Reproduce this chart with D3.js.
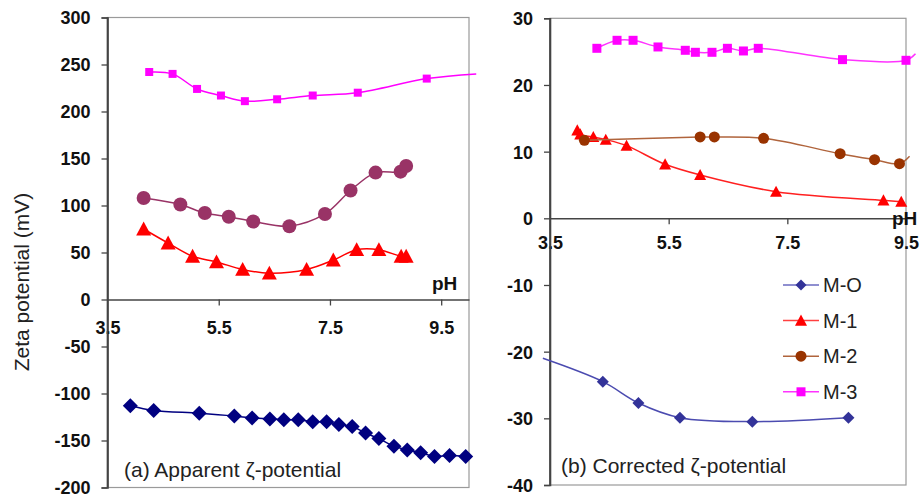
<!DOCTYPE html>
<html>
<head>
<meta charset="utf-8">
<script src="https://cdn.jsdelivr.net/npm/d3@7/dist/d3.min.js"></script>
<style>
  html, body { margin: 0; padding: 0; background: #fff; }
  svg { display: block; font-family: "Liberation Sans", Arial, sans-serif; }
</style>
</head>
<body>
<svg id="chart" width="920" height="498"></svg>
<script>
// ---- Panel (a): apparent zeta potential (mV) vs pH ----
const aTicksX = [3.5, 5.5, 7.5, 9.5];
const aTicksY = [-200, -150, -100, -50, 0, 50, 100, 150, 200, 250, 300];

const aPhMO  = [3.91, 4.33, 5.15, 5.78, 6.10, 6.42, 6.67, 6.93, 7.19, 7.44, 7.66, 7.90, 8.14, 8.38, 8.65, 8.89, 9.13, 9.38, 9.65, 9.94];
const aValMO = [-113, -118, -121, -124, -126, -127, -128, -128, -130, -130, -133, -135, -142, -148, -156, -160, -163, -167, -166, -167];

const aPhM1  = [4.15, 4.59, 5.03, 5.46, 5.93, 6.41, 7.08, 7.56, 7.98, 8.38, 8.78, 8.87];
const aValM1 = [75, 60, 46, 40, 32, 28, 32, 42, 53, 53, 46, 46];

const aPhM2  = [4.15, 4.81, 5.25, 5.68, 6.12, 6.77, 7.41, 7.87, 8.32, 8.77, 8.87];
const aValM2 = [108, 101, 92, 88, 83, 78, 91, 116, 135, 136, 142];

const aPhM3  = [4.25, 4.67, 5.11, 5.54, 5.97, 6.55, 7.19, 8.00, 9.24, 10.13];
const aValM3 = [242, 240, 224, 217, 211, 213, 217, 220, 235, 240];

// ---- Panel (b): corrected zeta potential (mV) vs pH ----
const bTicksX = [3.5, 5.5, 7.5, 9.5];
const bTicksY = [-40, -30, -20, -10, 0, 10, 20, 30];

const bPhMO  = [3.38, 4.39, 4.99, 5.69, 6.91, 8.53];
const bValMO = [-21, -24.5, -27.7, -29.9, -30.5, -29.9];

const bPhM1  = [3.96, 4.01, 4.23, 4.44, 4.79, 5.44, 6.03, 7.31, 9.12, 9.42];
const bValM1 = [13.2, 12.6, 12.2, 11.8, 10.9, 8.1, 6.5, 4.0, 2.7, 2.5];

const bPhM2  = [4.08, 6.03, 6.27, 7.10, 8.39, 8.97, 9.39, 9.56];
const bValM2 = [11.7, 12.2, 12.2, 12.0, 9.7, 8.8, 8.2, 9.3];

const bPhM3  = [4.29, 4.63, 4.90, 5.32, 5.78, 5.95, 6.23, 6.49, 6.76, 7.01, 8.43, 9.50, 9.66];
const bValM3 = [25.5, 26.7, 26.7, 25.7, 25.2, 24.9, 24.9, 25.5, 25.1, 25.5, 23.8, 23.7, 24.7];

const seriesNames = ["M-O", "M-1", "M-2", "M-3"];

const svg = d3.select("#chart");
const zip = (xs, ys) => xs.map((x, i) => ({ x, y: ys[i] }));
// plain hyphen-minus for negative tick labels
const intFmt = d => String(Math.round(d));
const phFmt = d => d.toFixed(1);

// marker path generators (centred on the point)
function markerPath(shape, s) {
  const h = s / 2;
  if (shape === "diamond") return `M0,${-h}L${h},0L0,${h}L${-h},0Z`;
  if (shape === "square")  return `M${-h},${-h}H${h}V${h}H${-h}Z`;
  if (shape === "triangle") return `M0,${-h}L${h},${h * 0.85}L${-h},${h * 0.85}Z`;
  return null;
}
function drawMarker(g, shape, s, color, cx, cy) {
  if (shape === "circle") {
    g.append("circle").attr("cx", cx).attr("cy", cy).attr("r", s / 2).attr("fill", color);
  } else {
    g.append("path").attr("d", markerPath(shape, s))
      .attr("transform", `translate(${cx},${cy})`).attr("fill", color);
  }
}

function panel(cfg) {
  const x = d3.scaleLinear().domain(cfg.xDomain).range([cfg.left, cfg.right]);
  const y = d3.scaleLinear().domain(cfg.yDomain).range([cfg.bottom, cfg.top]);
  const g = svg.append("g");

  // plot-area frame
  g.append("rect")
    .attr("x", cfg.left).attr("y", cfg.top)
    .attr("width", cfg.right - cfg.left).attr("height", cfg.bottom - cfg.top)
    .attr("fill", "none").attr("stroke", "#9a9a9a").attr("stroke-width", 1.2);

  // y axis
  const yAxis = g.append("g").attr("transform", `translate(${cfg.left},0)`)
    .call(d3.axisLeft(y).tickValues(cfg.yTicks).tickSize(6).tickFormat(intFmt));
  yAxis.select(".domain").attr("stroke", "#444").attr("stroke-width", 1.6);
  yAxis.selectAll(".tick line").attr("stroke", "#444").attr("stroke-width", 1.3);
  yAxis.selectAll(".tick text")
    .attr("x", -17).attr("dy", "0.36em")
    .attr("font-size", 18).attr("font-weight", "bold").attr("fill", "#111");

  // x axis along zero
  const xAxis = g.append("g").attr("transform", `translate(0,${y(0)})`)
    .call(d3.axisBottom(x).tickValues(cfg.xTicks).tickSize(6).tickSizeOuter(0).tickFormat(phFmt));
  xAxis.select(".domain").attr("stroke", "#444").attr("stroke-width", 1.6);
  xAxis.selectAll(".tick line").attr("stroke", "#444").attr("stroke-width", 1.3);
  xAxis.selectAll(".tick text")
    .attr("y", cfg.xLabelOffset).attr("dy", 0)
    .attr("font-size", 18).attr("font-weight", "bold").attr("fill", "#111");
  xAxis.selectAll(".tick").filter(d => d === cfg.xDomain[0]).select("line").remove();

  // redraw left axis line on top of the tick labels
  g.append("line").attr("x1", cfg.left).attr("x2", cfg.left)
    .attr("y1", cfg.top).attr("y2", cfg.bottom)
    .attr("stroke", "#444").attr("stroke-width", 1.6);

  const line = d3.line().x(d => x(d.x)).y(d => y(d.y)).curve(d3.curveCatmullRom.alpha(0.5));
  const [xmin, xmax] = cfg.xDomain;

  cfg.series.forEach(s => {
    const pts = zip(s.ph, s.val);
    g.append("path").attr("d", line(pts))
      .attr("fill", "none").attr("stroke", s.lineColor).attr("stroke-width", 1.5);
    const mg = g.append("g");
    pts.filter(p => p.x >= xmin && p.x <= xmax)
      .forEach(p => drawMarker(mg, s.shape, s.size, s.color, x(p.x), y(p.y)));
  });

  g.append("text").attr("x", cfg.phX).attr("y", cfg.phY)
    .attr("font-size", 19).attr("font-weight", "bold").attr("fill", "#111")
    .text("pH");

  g.append("text").attr("x", cfg.noteX).attr("y", cfg.noteY)
    .attr("font-size", 21).attr("fill", "#222")
    .text(cfg.note);

  return { x, y };
}

panel({
  left: 107.5, right: 469, top: 17.5, bottom: 487.5,
  xDomain: [3.5, 10], yDomain: [-200, 300],
  xTicks: aTicksX, yTicks: aTicksY, xLabelOffset: 34,
  phX: 432, phY: 290,
  noteX: 124, noteY: 477, note: "(a) Apparent \u03B6-potential",
  series: [
    { ph: aPhMO, val: aValMO, color: "#000080", lineColor: "#000080", shape: "diamond", size: 15 },
    { ph: aPhM1, val: aValM1, color: "#ff0000", lineColor: "#ff0000", shape: "triangle", size: 15 },
    { ph: aPhM2, val: aValM2, color: "#993366", lineColor: "#993366", shape: "circle", size: 14 },
    { ph: aPhM3, val: aValM3, color: "#ff00ff", lineColor: "#ff00ff", shape: "square", size: 8 }
  ]
});

panel({
  left: 550, right: 906, top: 18.3, bottom: 485,
  xDomain: [3.5, 9.5], yDomain: [-40, 30],
  xTicks: bTicksX, yTicks: bTicksY, xLabelOffset: 31,
  phX: 892, phY: 225,
  noteX: 561, noteY: 473, note: "(b) Corrected \u03B6-potential",
  series: [
    { ph: bPhMO, val: bValMO, color: "#333399", lineColor: "#4b4bb0", shape: "diamond", size: 12 },
    { ph: bPhM1, val: bValM1, color: "#ff0000", lineColor: "#ff2020", shape: "triangle", size: 12 },
    { ph: bPhM2, val: bValM2, color: "#993300", lineColor: "#b0643c", shape: "circle", size: 11 },
    { ph: bPhM3, val: bValM3, color: "#ff00ff", lineColor: "#ff33ff", shape: "square", size: 9 }
  ]
});

// y-axis title
svg.append("text")
  .attr("transform", "translate(29,282) rotate(-90)")
  .attr("text-anchor", "middle").attr("font-size", 21).attr("fill", "#222")
  .text("Zeta potential (mV)");

// legend
const legendStyle = [
  { shape: "diamond", size: 11, color: "#333399", lineColor: "#6a6ac0" },
  { shape: "triangle", size: 12, color: "#ff0000", lineColor: "#ff4040" },
  { shape: "circle", size: 11, color: "#993300", lineColor: "#b0643c" },
  { shape: "square", size: 9, color: "#ff00ff", lineColor: "#ff33ff" }
];
const legend = svg.append("g");
seriesNames.forEach((name, i) => {
  const cy = 285 + i * 35.6;
  const st = legendStyle[i];
  legend.append("line").attr("x1", 783).attr("x2", 819).attr("y1", cy).attr("y2", cy)
    .attr("stroke", st.lineColor).attr("stroke-width", 1.5);
  drawMarker(legend, st.shape, st.size, st.color, 801, cy);
  legend.append("text").attr("x", 823).attr("y", cy + 7)
    .attr("font-size", 20).attr("fill", "#222").text(name);
});
</script>
</body>
</html>
